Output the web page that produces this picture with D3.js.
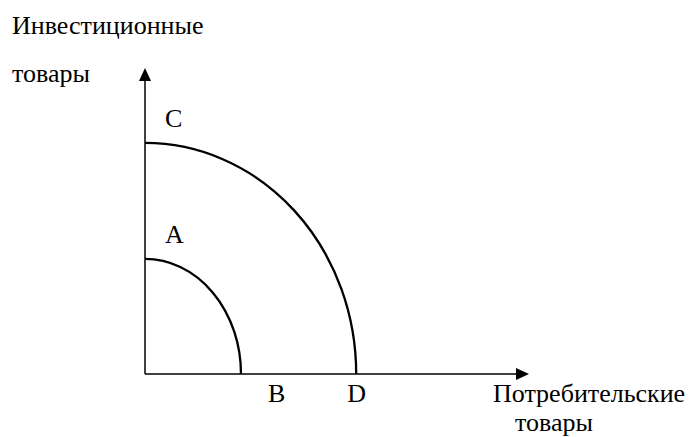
<!DOCTYPE html>
<html>
<head>
<meta charset="utf-8">
<script src="https://cdn.jsdelivr.net/npm/d3@7"></script>
<style>
  body { margin: 0; background: #fff; }
</style>
</head>
<body>
<script>
// production possibility curves: intercepts on each axis (0..100 units)
const curveNames = ["inner", "outer"]
const xIntercepts = [25, 55]     // B, D
const yIntercepts = [37.6, 75.5] // A, C
const pointLabels = [["A", "B"], ["C", "D"]]
const axisTitleY = ["Инвестиционные", "товары"]
const axisTitleX = ["Потребительские", "товары"]

const width = 691, height = 437
const font = "'Liberation Serif', serif"
const fontSize = 26

const svg = d3.select("body").append("svg")
    .attr("width", width)
    .attr("height", height)

const x = d3.scaleLinear().domain([0, 100]).range([145, 529])
const y = d3.scaleLinear().domain([0, 100]).range([374, 68])

function label(px, py, str){
    let t = svg.append("text")
        .attr("x", px).attr("y", py)
        .style("font-family", font)
        .style("font-size", fontSize + "px")
        .attr("fill", "#000")
        .text(str)
    return t
}

// axes with arrowheads
svg.append("line")
    .attr("x1", x(0)).attr("y1", y(0))
    .attr("x2", x(0)).attr("y2", y(100) + 10)
    .attr("stroke", "#000").attr("stroke-width", 1.5)
svg.append("line")
    .attr("x1", x(0)).attr("y1", y(0))
    .attr("x2", x(100) - 10).attr("y2", y(0))
    .attr("stroke", "#000").attr("stroke-width", 1.5)

svg.append("path")
    .attr("d", `M${x(0)},${y(100)} L${x(0) - 6},${y(100) + 13} L${x(0) + 6},${y(100) + 13} Z`)
    .attr("fill", "#000")
svg.append("path")
    .attr("d", `M${x(100)},${y(0)} L${x(100) - 13},${y(0) - 6} L${x(100) - 13},${y(0) + 6} Z`)
    .attr("fill", "#000")

// quarter-ellipse frontiers
curveNames.forEach((name, i) => {
    let rx = x(xIntercepts[i]) - x(0)
    let ry = y(0) - y(yIntercepts[i])
    svg.append("path")
        .attr("class", name)
        .attr("d", `M${x(0)},${y(yIntercepts[i])} A${rx},${ry} 0 0 1 ${x(xIntercepts[i])},${y(0)}`)
        .attr("fill", "none")
        .attr("stroke", "#000")
        .attr("stroke-width", 2.3)

    // label above the y intercept
    label(x(0) + 20, y(yIntercepts[i]) - 16, pointLabels[i][0])

    // label below the x axis
    label(i == 0 ? x(xIntercepts[i]) + 27 : x(xIntercepts[i]) - 9, y(0) + 28, pointLabels[i][1])
})

// axis titles
label(12, 34, axisTitleY[0])
label(12, 82, axisTitleY[1])
label(493, 402, axisTitleX[0])
label(515, 431, axisTitleX[1])
</script>
</body>
</html>
